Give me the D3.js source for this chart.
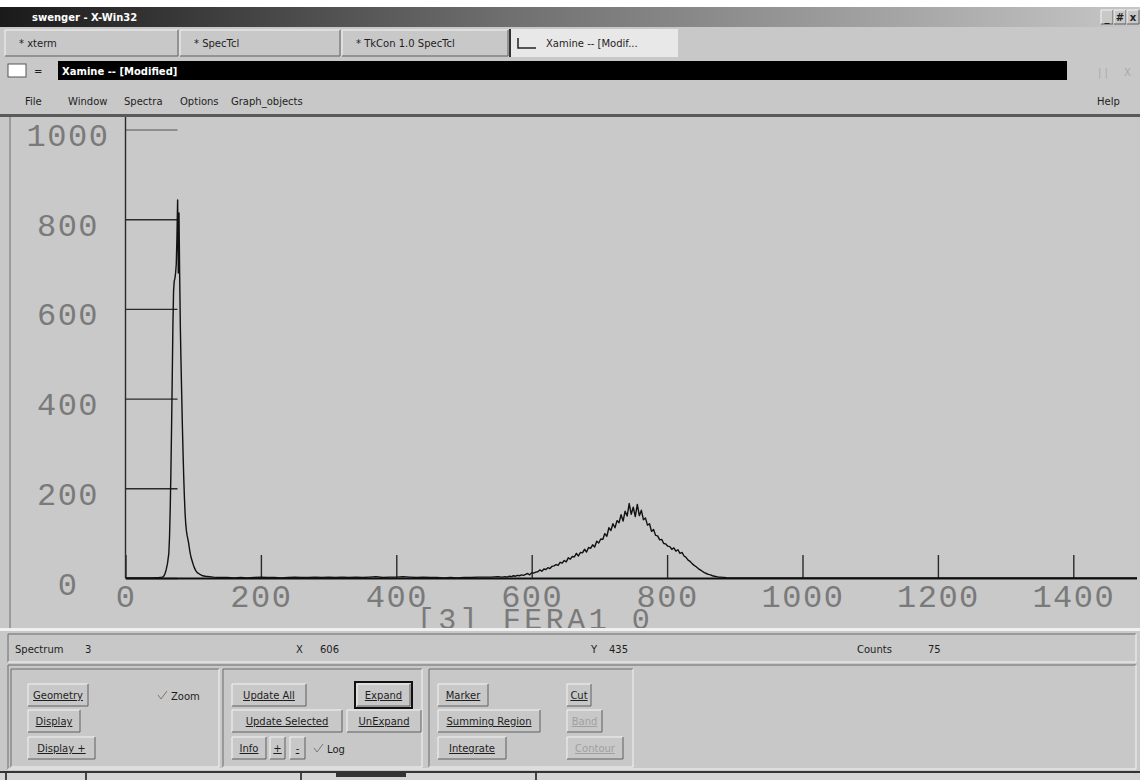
<!DOCTYPE html>
<html>
<head>
<meta charset="utf-8">
<title>Xamine</title>
<script src="https://cdn.jsdelivr.net/npm/d3@7"></script>
<style>
	body { margin: 0; background: #c8c8c8; }
	svg { display: block; }
	.ui { font-family: 'DejaVu Sans', sans-serif; font-size: 10px; fill: #1e1e1e; }
	.ui-bold { font-family: 'DejaVu Sans', sans-serif; font-size: 10px; font-weight: bold; fill: #fff; }
	.tick-label { font-family: 'Liberation Mono', monospace; font-size: 32px; fill: #7a7a7a; letter-spacing: 1.5px; }
	.title-label { font-family: 'Liberation Mono', monospace; font-size: 30px; fill: #7a7a7a; letter-spacing: 3.5px; }
</style>
</head>
<body>
<script>
// ------- DATA ------- //

const xTicks = [0, 200, 400, 600, 800, 1000, 1200, 1400]
const yTicks = [0, 200, 400, 600, 800, 1000]
const xDomain = [0, 1500]
const yDomain = [0, 1000]
const spectrumTitle = '[3] FERA1_0'

// [channel, counts] - low energy peak
const peakLow = [
	[0, 0], [40, 0], [50, 1], [54, 2], [56, 3], [58, 8], [60, 18], [62, 32], [64, 55],
	[65, 90], [66, 150], [67, 230], [68, 330], [69, 440], [70, 560], [71, 640], [72, 662],
	[73, 668], [74, 680], [75, 700], [76, 760], [77, 843], [78, 680], [79, 814], [80, 676],
	[81, 560], [82, 480], [83, 410], [84, 340], [85, 280], [86, 225], [87, 180], [88, 145],
	[89, 120], [90, 105], [91, 95], [92, 88], [93, 80], [94, 70], [95, 60], [96, 52],
	[97, 45], [98, 40], [100, 30], [102, 22], [104, 16], [106, 12], [108, 10], [110, 8],
	[114, 5], [118, 4], [124, 3], [130, 2], [140, 1]
]

// [channel, counts] - near-empty stretch between the peaks
const floorCounts = [
	[150, 1], [160, 0], [170, 1], [180, 0], [190, 1], [200, 2], [210, 1], [220, 1], [230, 0],
	[240, 1], [250, 2], [260, 1], [270, 1], [280, 2], [290, 1], [300, 2], [310, 1], [320, 2],
	[330, 1], [340, 2], [350, 1], [360, 2], [370, 3], [380, 1], [390, 2], [400, 2], [410, 3],
	[420, 2], [430, 1], [440, 2], [450, 1], [460, 1], [470, 0], [480, 1], [490, 0], [500, 1],
	[510, 1], [520, 2], [530, 2], [540, 2], [550, 3], [556, 2]
]

// [channel, counts] - broad peak
const peakHigh = [
	[561, 3], [564, 2], [567, 4], [570, 3], [573, 5], [576, 4], [579, 6], [582, 5], [585, 7],
	[588, 6], [591, 8], [594, 10], [597, 7], [600, 12], [603, 11], [606, 13], [609, 14], [612, 18],
	[615, 15], [618, 20], [621, 19], [624, 23], [627, 21], [630, 26], [633, 27], [636, 30],
	[639, 28], [642, 35], [645, 33], [648, 39], [651, 36], [654, 45], [657, 42], [660, 48],
	[663, 47], [666, 55], [669, 49], [672, 57], [675, 56], [678, 64], [681, 58], [684, 68],
	[687, 66], [690, 74], [693, 69], [696, 82], [699, 78], [702, 87], [705, 86], [708, 99],
	[711, 93], [714, 112], [717, 106], [720, 121], [723, 112], [726, 128], [729, 123],
	[732, 141], [735, 127], [738, 149], [741, 138], [744, 166], [747, 142], [750, 158],
	[753, 137], [756, 164], [759, 139], [762, 151], [765, 130], [768, 134], [771, 118],
	[774, 121], [777, 104], [780, 108], [783, 95], [786, 94], [789, 85], [792, 86], [795, 77],
	[798, 76], [801, 71], [804, 70], [807, 64], [810, 67], [813, 60], [816, 63], [819, 55],
	[822, 57], [825, 49], [828, 46], [831, 40], [834, 37], [837, 32], [840, 28], [843, 25],
	[846, 21], [849, 18], [852, 15], [855, 12], [858, 10], [861, 8], [864, 7], [867, 5],
	[870, 4], [873, 3], [876, 2], [879, 2], [882, 1], [885, 1], [888, 0], [900, 0], [1500, 0]
]

// ------- LAYOUT ------- //

const W = 1140
const H = 780
const plotBox = { left: 8, top: 117, right: 1137, bottom: 628 }

const svg = d3.select('body').append('svg')
	.attr('width', W)
	.attr('height', H)

svg.append('rect').attr('width', W).attr('height', H).attr('fill', '#c8c8c8')
const defs = svg.append('defs')

const bevel = (g, x, y, w, h, sunken) => {
	const light = sunken ? '#6a6a6a' : '#f4f4f4'
	const dark = sunken ? '#f4f4f4' : '#5e5e5e'
	g.append('path').attr('d', `M${x},${y + h}V${y}H${x + w}`).attr('stroke', light).attr('fill', 'none')
	g.append('path').attr('d', `M${x + w},${y}V${y + h}H${x}`).attr('stroke', dark).attr('fill', 'none')
}

// ------- WINDOW CHROME ------- //

const drawTitleBar = () => {
	const grad = defs.append('linearGradient').attr('id', 'titleGrad')
	grad.append('stop').attr('offset', '0%').attr('stop-color', '#1a1a1a')
	grad.append('stop').attr('offset', '45%').attr('stop-color', '#707070')
	grad.append('stop').attr('offset', '100%').attr('stop-color', '#c6c6c6')

	svg.append('rect').attr('width', W).attr('height', 7).attr('fill', '#fff')
	svg.append('rect').attr('y', 7).attr('width', W).attr('height', 20).attr('fill', 'url(#titleGrad)')
	svg.append('text').attr('class', 'ui-bold').attr('x', 32).attr('y', 21).text('swenger - X-Win32')

	const btns = ['_', '#', 'x']
	btns.forEach((b, i) => {
		const bx = 1101 + i * 13
		svg.append('rect').attr('x', bx).attr('y', 10).attr('width', 12).attr('height', 14).attr('fill', '#c8c8c8')
		bevel(svg, bx, 10, 12, 14)
		svg.append('text').attr('class', 'ui').attr('x', bx + 6).attr('y', 21)
			.attr('text-anchor', 'middle').style('font-weight', 'bold').text(b)
	})
}

const drawTabs = () => {
	const tabs = [
		{ x0: 5, x1: 178, label: '*  xterm' },
		{ x0: 180, x1: 340, label: '*  SpecTcl' },
		{ x0: 342, x1: 508, label: '*  TkCon 1.0 SpecTcl' }
	]
	tabs.forEach(t => {
		bevel(svg, t.x0, 30, t.x1 - t.x0, 26)
		svg.append('text').attr('class', 'ui').attr('x', t.x0 + 14).attr('y', 47).text(t.label)
	})
	// active tab
	svg.append('rect').attr('x', 510).attr('y', 29).attr('width', 168).attr('height', 28).attr('fill', '#e8e8e8')
	svg.append('line').attr('x1', 510).attr('x2', 510).attr('y1', 29).attr('y2', 57).attr('stroke', '#333').attr('stroke-width', 2)
	svg.append('path').attr('d', 'M518,38V48H536').attr('stroke', '#222').attr('stroke-width', 1.5).attr('fill', 'none')
	svg.append('text').attr('class', 'ui').attr('x', 546).attr('y', 47).text('Xamine -- [Modif...')
}

const drawAppBar = () => {
	svg.append('rect').attr('x', 8).attr('y', 64).attr('width', 18).attr('height', 13).attr('fill', '#fff').attr('stroke', '#555')
	svg.append('text').attr('class', 'ui').attr('x', 34).attr('y', 75).text('=')
	svg.append('rect').attr('x', 58).attr('y', 61).attr('width', 1009).attr('height', 19).attr('fill', '#000')
	svg.append('text').attr('class', 'ui-bold').attr('x', 62).attr('y', 75).text('Xamine -- [Modified]')
	svg.append('text').attr('class', 'ui').attr('x', 1098).attr('y', 76).style('fill', '#a8a8a8').text('| |')
	svg.append('text').attr('class', 'ui').attr('x', 1124).attr('y', 76).style('fill', '#a8a8a8').text('X')
}

const drawMenu = () => {
	const items = [
		{ x: 25, label: 'File' },
		{ x: 68, label: 'Window' },
		{ x: 124, label: 'Spectra' },
		{ x: 180, label: 'Options' },
		{ x: 231, label: 'Graph_objects' },
		{ x: 1097, label: 'Help' }
	]
	items.forEach(m => {
		svg.append('text').attr('class', 'ui').attr('x', m.x).attr('y', 105).text(m.label)
	})
	svg.append('rect').attr('x', 0).attr('y', 114).attr('width', W).attr('height', 3).attr('fill', '#5a5a5a')
}

// ------- SPECTRUM PLOT ------- //

const drawPlot = () => {
	const g = svg.append('g')

	g.append('rect')
		.attr('x', plotBox.left).attr('y', plotBox.top)
		.attr('width', plotBox.right - plotBox.left).attr('height', plotBox.bottom - plotBox.top)
		.attr('fill', '#c9c9c9')
	g.append('line')
		.attr('x1', 10).attr('x2', 10).attr('y1', plotBox.top).attr('y2', plotBox.bottom)
		.attr('stroke', '#9a9a9a').attr('stroke-width', 2)

	defs.append('clipPath').attr('id', 'plotClip')
		.append('rect')
		.attr('x', plotBox.left).attr('y', plotBox.top)
		.attr('width', plotBox.right - plotBox.left).attr('height', plotBox.bottom - plotBox.top)

	const plot = g.append('g').attr('clip-path', 'url(#plotClip)')

	const x = d3.scaleLinear().domain(xDomain).range([125.5, 1141])
	const y = d3.scaleLinear().domain(yDomain).range([578, 129.5])
	const fmt = d3.format('d')

	// y axis - ticks point inward, labels centred in the left margin
	const gy = plot.append('g')
		.attr('transform', `translate(${x(0)},0)`)
		.call(d3.axisLeft(y).tickValues(yTicks).tickFormat(fmt).tickSize(-52).tickSizeOuter(0))
	gy.select('.domain').remove()
	gy.selectAll('.tick line')
		.attr('stroke', d => d === 1000 ? '#8e8e8e' : '#2a2a2a')
		.attr('stroke-width', d => d === 1000 ? 2 : 1.4)
	gy.selectAll('.tick text')
		.attr('class', 'tick-label')
		.attr('x', -57.5)
		.attr('dy', '0.5em')
		.attr('text-anchor', 'middle')

	plot.append('line')
		.attr('x1', x(0)).attr('x2', x(0))
		.attr('y1', y(0)).attr('y2', plotBox.top)
		.attr('stroke', '#2a2a2a').attr('stroke-width', 1.4)

	// x axis
	const gx = plot.append('g')
		.attr('transform', `translate(0,${y(0)})`)
		.call(d3.axisBottom(x).tickValues(xTicks).tickFormat(fmt).tickSize(-23).tickSizeOuter(0).tickPadding(6))
	gx.select('.domain').attr('stroke', '#111').attr('stroke-width', 2)
	gx.selectAll('.tick line').attr('stroke', '#2a2a2a').attr('stroke-width', 1.4)
	gx.selectAll('.tick text').attr('class', 'tick-label')

	// histogram
	const counts = peakLow.concat(floorCounts, peakHigh)
	const line = d3.line()
		.x(d => x(d[0]))
		.y(d => y(d[1]))

	plot.append('path')
		.datum(counts)
		.attr('d', line)
		.attr('fill', 'none')
		.attr('stroke', '#111')
		.attr('stroke-width', 1.4)
		.attr('stroke-linejoin', 'round')

	// spectrum name, cut by the bottom of the plot like the original
	plot.append('text')
		.attr('class', 'title-label')
		.attr('x', 535)
		.attr('y', plotBox.bottom + 1)
		.attr('text-anchor', 'middle')
		.text(spectrumTitle)
}

// ------- STATUS + BUTTONS ------- //

const drawStatus = () => {
	svg.append('rect').attr('x', 0).attr('y', 628).attr('width', W).attr('height', 3).attr('fill', '#f0f0f0')
	bevel(svg, 8, 634, 1128, 28, true)
	const fields = [
		{ x: 15, label: 'Spectrum' }, { x: 85, label: '3' },
		{ x: 296, label: 'X' }, { x: 320, label: '606' },
		{ x: 591, label: 'Y' }, { x: 609, label: '435' },
		{ x: 857, label: 'Counts' }, { x: 928, label: '75' }
	]
	fields.forEach(f => {
		svg.append('text').attr('class', 'ui').attr('x', f.x).attr('y', 653).text(f.label)
	})
}

const drawButtons = () => {
	bevel(svg, 8, 665, 1128, 104, true)
	const groups = [[11, 208], [223, 199], [429, 204]]
	groups.forEach(([gx, gw]) => {
		bevel(svg, gx, 669, gw, 98, true)
	})

	const buttons = [
		{ x: 28, y: 684, w: 60, label: 'Geometry' },
		{ x: 28, y: 710, w: 52, label: 'Display' },
		{ x: 28, y: 737, w: 67, label: 'Display +' },
		{ x: 232, y: 684, w: 74, label: 'Update All' },
		{ x: 357, y: 684, w: 53, label: 'Expand', focus: true },
		{ x: 232, y: 710, w: 110, label: 'Update Selected' },
		{ x: 347, y: 710, w: 74, label: 'UnExpand' },
		{ x: 232, y: 737, w: 34, label: 'Info' },
		{ x: 270, y: 737, w: 15, label: '+' },
		{ x: 290, y: 737, w: 15, label: '-' },
		{ x: 438, y: 684, w: 50, label: 'Marker' },
		{ x: 567, y: 684, w: 24, label: 'Cut' },
		{ x: 438, y: 710, w: 102, label: 'Summing Region' },
		{ x: 567, y: 710, w: 35, label: 'Band', disabled: true },
		{ x: 438, y: 737, w: 68, label: 'Integrate' },
		{ x: 567, y: 737, w: 56, label: 'Contour', disabled: true }
	]
	buttons.forEach(b => {
		if (b.focus) {
			svg.append('rect').attr('x', b.x - 2).attr('y', b.y - 2).attr('width', b.w + 4).attr('height', 26)
				.attr('fill', 'none').attr('stroke', '#111').attr('stroke-width', 2)
		}
		bevel(svg, b.x, b.y, b.w, 22)
		svg.append('text').attr('class', 'ui')
			.attr('x', b.x + b.w / 2).attr('y', b.y + 15)
			.attr('text-anchor', 'middle')
			.style('fill', b.disabled ? '#a0a0a0' : '#1e1e1e')
			.style('text-decoration', 'underline')
			.text(b.label)
	})

	const checks = [{ x: 158, y: 690, label: 'Zoom' }, { x: 314, y: 743, label: 'Log' }]
	checks.forEach(c => {
		svg.append('path').attr('d', `M${c.x},${c.y + 5}L${c.x + 3},${c.y + 9}L${c.x + 9},${c.y + 1}`)
			.attr('stroke', '#777').attr('fill', 'none')
		svg.append('text').attr('class', 'ui').attr('x', c.x + 13).attr('y', c.y + 10).text(c.label)
	})
}

const drawTaskbar = () => {
	svg.append('rect').attr('x', 0).attr('y', 771).attr('width', W).attr('height', 2).attr('fill', '#333')
	svg.append('rect').attr('x', 0).attr('y', 773).attr('width', W).attr('height', 7).attr('fill', '#d4d4d4')
	const marks = [5, 85, 300, 535]
	marks.forEach(m => {
		svg.append('rect').attr('x', m).attr('y', 773).attr('width', 2).attr('height', 7).attr('fill', '#444')
	})
	svg.append('rect').attr('x', 336).attr('y', 773).attr('width', 70).attr('height', 4).attr('fill', '#333')
}

drawTitleBar()
drawTabs()
drawAppBar()
drawMenu()
drawPlot()
drawStatus()
drawButtons()
drawTaskbar()
</script>
</body>
</html>
